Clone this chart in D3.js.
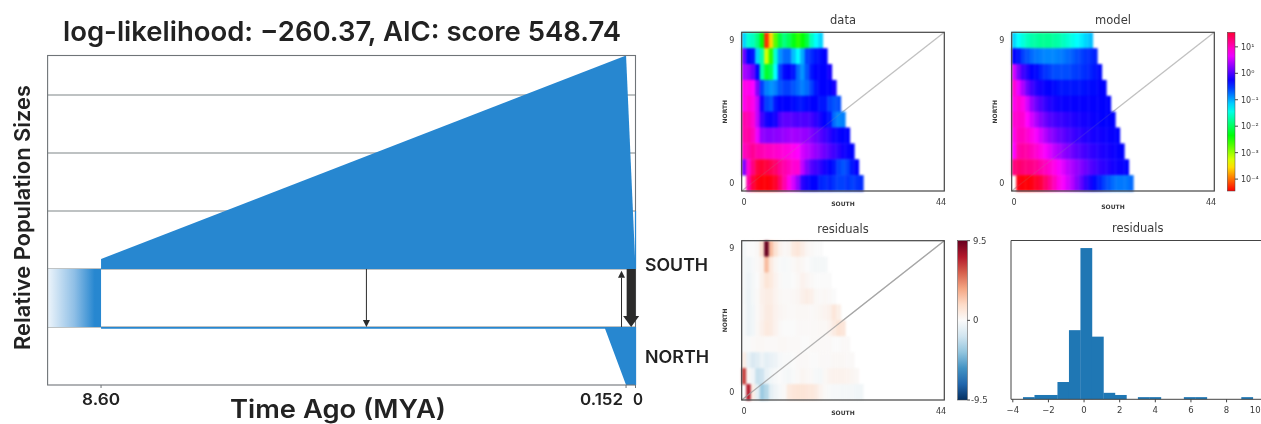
<!DOCTYPE html>
<html><head><meta charset="utf-8">
<script src="https://cdn.jsdelivr.net/npm/d3@7"></script>
<style>
html,body{margin:0;padding:0;background:#fff;overflow:hidden}
svg{display:block}
text{font-family:"DejaVu Sans",sans-serif;fill:#3a3a3a}
.big text,text.big{font-family:Inter,"Open Sans",sans-serif;fill:#222;font-weight:600}
.soft{filter:blur(0.5px)}
.softer{filter:blur(0.8px)}
.leftsoft{filter:blur(0.35px)}
</style></head><body>
<svg id="c" width="1261" height="424"></svg>
<script>
// ---- demographic model (left panel) ----
const titleText = "log-likelihood: \u2212260.37, AIC: score 548.74";
const timeTicks = [8.6, 0.152, 0];
const timeTickLabels = ["8.60", "0.152", "0"];
const gridLevels = [1, 2, 3, 4, 5];
const southBase = 2;
const southTimes = [8.6, 0.152, 0];
const southSizes = [0.17, 3.68, 0];
const northBase = 1;
const northTimes = [8.6, 0.49, 0.152, 0];
const northSizes = [0.03, 0.03, 1, 1];
const ancestralTimes = [9.46, 8.6];
const arrowTimes = [4.33, 0.225, 0.07];
const arrowFrom = [2, 1, 2];
const arrowTo = [1, 1.97, 1];
const arrowWeights = [1, 1, 9];
const popLabels = ["SOUTH", "NORTH"];

// ---- log10 of spectrum values, top row (NORTH = 9) first ----
const dataRows = [
[-1.28,-1.62,-1.7,-1.95,-2.45,-4.28,-3.62,-2.78,-2.2,-1.95,-2.12,-2.37,-2.62,-2.45,-2.2,-1.7,-1.45,-1.28],
[-.03,-.45,-.53,-1.28,-1.78,-3.28,-2.62,-1.62,-1.03,-.87,-.87,-1.2,-1.45,-1.12,-.7,-.62,-.53,-.48,-.45],
[.22,.13,-.03,-.45,-1.78,-2.28,-2.12,-1.45,-.7,-.48,-.45,-.53,-.87,-1.03,-.78,-.53,-.45,-.45,-.45,-.37],
[.63,.63,.55,.05,-.7,-.95,-1.03,-.95,-.78,-.7,-.7,-.78,-.87,-.95,-.87,-.7,-.53,-.45,-.45,-.45,-.37],
[.63,.72,.63,.3,-.37,-.7,-.78,-.53,-.45,-.45,-.45,-.48,-.53,-.53,-.48,-.45,-.45,-.53,-.53,-.7,-.78,-.75],
[.88,.85,.72,.3,-.2,-.37,-.42,-.37,-.15,-.08,-.08,-.12,-.15,-.15,-.15,-.2,-.28,-.37,-.45,-.53,-.87,-.98,-.95],
[.88,.92,.8,.47,.13,.08,.08,.1,.12,.15,.18,.2,.18,.15,.13,.05,-.03,-.12,-.2,-.28,-.37,-.42,-.45,-.45],
[.8,.88,.97,.88,.85,.8,.78,.75,.72,.68,.65,.6,.55,.38,.3,.22,.13,.05,-.03,-.12,-.2,-.28,-.37,-.42,-.45],
[.05,.72,1.05,1.3,1.35,1.3,1.22,1.13,.97,.88,.8,.72,.72,.3,.05,-.12,-.2,-.28,-.37,-.45,-.53,-.7,-.78,-.7,-.53,-.45],
[null,.88,1.3,1.47,1.52,1.52,1.47,1.38,1.13,.88,.63,.38,.13,-.28,-.37,-.45,-.45,-.58,-.62,-.58,-.65,-.7,-.7,-.65,-.7,-.65,-.62]
];
const modelRows = [
[-1.28,-1.45,-1.58,-1.7,-1.78,-1.82,-1.87,-1.87,-1.87,-1.82,-1.78,-1.7,-1.62,-1.53,-1.45,-1.37,-1.28,-1.2],
[-.45,-.53,-.7,-.78,-.87,-.92,-.95,-.98,-.98,-.98,-.95,-.92,-.87,-.82,-.75,-.7,-.65,-.62,-.58],
[.38,.05,-.2,-.32,-.45,-.48,-.58,-.65,-.7,-.75,-.75,-.75,-.75,-.7,-.68,-.65,-.62,-.58,-.53,-.48],
[.72,.47,.22,-.03,-.2,-.32,-.38,-.43,-.45,-.48,-.52,-.53,-.53,-.53,-.53,-.52,-.5,-.48,-.48,-.45,-.45],
[.63,.72,.63,.38,.13,-.03,-.15,-.25,-.32,-.37,-.4,-.42,-.42,-.43,-.43,-.43,-.43,-.43,-.44,-.44,-.45,-.45],
[.72,.75,.72,.55,.38,.22,.08,-.03,-.12,-.17,-.22,-.25,-.28,-.32,-.35,-.37,-.38,-.4,-.42,-.43,-.45,-.45,-.45],
[.63,.8,.8,.72,.63,.52,.38,.25,.13,.05,-.03,-.08,-.15,-.2,-.25,-.28,-.32,-.35,-.37,-.38,-.4,-.42,-.43,-.45],
[.55,.88,.92,.88,.8,.72,.63,.52,.42,.3,.22,.12,.05,-.03,-.1,-.15,-.2,-.25,-.28,-.32,-.35,-.37,-.4,-.43,-.45],
[1.05,1.13,1.08,1.05,1.02,.97,.88,.8,.72,.63,.52,.42,.3,.22,.13,.05,-.03,-.12,-.18,-.25,-.28,-.32,-.37,-.4,-.42,-.45],
[null,1.47,1.52,1.52,1.47,1.38,1.3,1.13,.97,.8,.63,.52,.38,.25,.08,-.08,-.25,-.37,-.48,-.58,-.7,-.78,-.87,-.92,-.92,-.92,-.87]
];
const residualRows = [
[-.3,0,0,.2,1.5,9.5,3,1.5,.5,.2,.3,1,1.2,.8,.3,.1,0,0],
[-.3,-.4,-.2,.1,.5,3,1,.3,-.1,-.2,-.1,.1,.3,.2,0,-.2,-.3,-.3,-.3],
[-.3,-.6,-.3,0,.6,1.3,1,.5,.1,-.1,-.1,0,.2,.5,.3,.1,0,0,0,0],
[-.3,-.7,-.3,.1,.6,.8,.8,.4,.2,.1,.1,.2,.3,.6,.8,.6,.2,.1,.2,.1,0],
[-.2,-.7,-.4,.1,.5,.9,.9,.5,.3,.2,.1,.1,.2,.2,.2,.1,.2,.3,.4,.6,1.2,.7],
[-.2,-.7,-.4,.2,.6,1,.9,.5,.1,0,0,0,.1,.1,.1,.1,.1,.2,.2,.4,.9,1.4,1.2],
[-.1,-.1,.1,.2,.2,.1,.1,.1,.2,.2,.1,.1,.1,0,0,.1,.1,.1,.1,.1,0,0,.1,.1],
[.8,-.8,-1.5,-1.2,-.6,-1,-.8,-.6,-.2,-.1,-.1,0,.1,.1,.1,0,0,.1,.1,.1,.2,.2,.2,.1,.1],
[6.5,.2,-.5,-2.2,-2,-.8,-.4,-.2,0,-.2,-.3,-.1,.1,.3,.2,.1,-.2,-.3,.2,.4,.5,.5,.5,.4,.3,.2],
[null,7.5,.8,-1,-3.5,-2.8,-1,-.5,-.2,.1,1,1.2,1.3,1.3,1.2,1.1,.9,.4,.1,-.1,-.2,-.2,-.3,-.3,-.3,-.4,-.4]
];
const colTicks = [0, 44];
const rowTicks = [0, 9];
const logTicks = [1, 0, -1, -2, -3, -4];
const logTickLabels = ["10\u00b9", "10\u2070", "10\u207b\u00b9", "10\u207b\u00b2", "10\u207b\u00b3", "10\u207b\u2074"];
const logDomain = [-4.45, 1.55];
const residualTicks = [9.5, 0, -9.5];

// ---- residual histogram ----
const histEdgeStart = -3.4;
const histBinWidth = 0.645;
const histCounts = [1,2,2,8,32,70,29,3,2,0,1,1,0,0,1,1,0,0,0,1];
const histTicks = [-4,-2,0,2,4,6,8,10];

const BLUE = "#2787d0";
const svg = d3.select("#c");
const defs = svg.append("defs");

// ================= LEFT PANEL =================
const L = {l:47.6, r:635.5, t:55.5, b:385};
const tx = d3.scaleLinear().domain([9.46,0]).range([L.l,L.r]);
const ty = d3.scaleLinear().domain([0,5.68]).range([L.b,L.t]);
const left = svg.append("g").attr("class","leftsoft");

gridLevels.forEach(v => left.append("line").attr("x1",L.l).attr("x2",L.r).attr("y1",ty(v)).attr("y2",ty(v))
  .attr("stroke","#7f8588").attr("stroke-width",1.1));

const grad = defs.append("linearGradient").attr("id","anc").attr("x1","0").attr("x2","1").attr("y1","0").attr("y2","0");
grad.append("stop").attr("offset","0").attr("stop-color","#eef5fb");
grad.append("stop").attr("offset","0.5").attr("stop-color","#8fbfe6");
grad.append("stop").attr("offset","0.88").attr("stop-color",BLUE);
grad.append("stop").attr("offset","1").attr("stop-color",BLUE);
left.append("rect").attr("x",tx(ancestralTimes[0])).attr("width",tx(ancestralTimes[1])-tx(ancestralTimes[0]))
  .attr("y",ty(southBase)).attr("height",ty(northBase)-ty(southBase)).attr("fill","url(#anc)");

const southArea = d3.area().x((d,i)=>tx(southTimes[i])).y0(ty(southBase)).y1((d,i)=>ty(southBase+southSizes[i]));
left.append("path").attr("d",southArea(southTimes)).attr("fill",BLUE);
const northArea = d3.area().x((d,i)=>tx(northTimes[i])).y0(ty(northBase)).y1((d,i)=>ty(northBase-northSizes[i]));
left.append("path").attr("d",northArea(northTimes)).attr("fill",BLUE);

// frame
left.append("rect").attr("x",L.l).attr("y",L.t).attr("width",L.r-L.l).attr("height",L.b-L.t)
  .attr("fill","none").attr("stroke","#6f7478").attr("stroke-width",1.1);
left.append("line").attr("x1",L.r).attr("x2",L.r).attr("y1",ty(northBase)).attr("y2",L.b).attr("stroke",BLUE).attr("stroke-width",1.2);
left.append("line").attr("x1",L.r).attr("x2",L.r).attr("y1",ty(3)).attr("y2",ty(southBase)).attr("stroke",BLUE).attr("stroke-width",1.2);

// migration arrows
arrowTimes.forEach((t,i)=>{
  const w = arrowWeights[i], x = tx(t), y0 = ty(arrowFrom[i]), y1 = ty(arrowTo[i]);
  const dir = Math.sign(y1-y0), hl = w>1 ? 11 : 7, hw = w>1 ? 8 : 3.5;
  left.append("line").attr("x1",x).attr("x2",x).attr("y1",y0).attr("y2",y1-dir*hl)
    .attr("stroke","#2b2b2b").attr("stroke-width",w);
  left.append("path").attr("d",d3.line()([[x-hw,y1-dir*hl],[x+hw,y1-dir*hl],[x,y1]])+"Z").attr("fill","#2b2b2b");
});

// ticks
timeTicks.forEach(t=>{
  left.append("line").attr("x1",tx(t)).attr("x2",tx(t)).attr("y1",L.b).attr("y2",L.b+3).attr("stroke","#6f7478");
});
const tickLabelX = [0, -24.5, 2.5];
const tickLabelW = [38, 43, 10];
timeTicks.forEach((t,i)=>{
  left.append("text").attr("class","big").attr("x",tx(t)+tickLabelX[i]).attr("y",404.5).attr("text-anchor","middle")
    .style("font-size","16px").attr("textLength",tickLabelW[i]).attr("lengthAdjust","spacingAndGlyphs").text(timeTickLabels[i]);
});
left.append("text").attr("class","big").attr("x",342).attr("y",41).attr("text-anchor","middle")
  .style("font-size","27px").attr("textLength",558).attr("lengthAdjust","spacingAndGlyphs").text(titleText);
left.append("text").attr("class","big").attr("x",338).attr("y",417.5).attr("text-anchor","middle")
  .style("font-size","25px").attr("textLength",216).attr("lengthAdjust","spacingAndGlyphs").text("Time Ago (MYA)");
left.append("text").attr("class","big").attr("transform","translate(30,217.5) rotate(-90)").attr("text-anchor","middle")
  .style("font-size","22px").attr("textLength",265).attr("lengthAdjust","spacingAndGlyphs").text("Relative Population Sizes");
left.append("text").attr("class","big").attr("x",645).attr("y",271).style("font-size","17px").attr("textLength",63).attr("lengthAdjust","spacingAndGlyphs").text(popLabels[0]);
left.append("text").attr("class","big").attr("x",645).attr("y",363).style("font-size","17px").attr("textLength",64).attr("lengthAdjust","spacingAndGlyphs").text(popLabels[1]);

// ================= RIGHT PANELS =================
const right = svg.append("g").attr("class","soft");
const hue = d3.scaleLinear().domain(logDomain).range([0,360]);
const logColor = v => d3.hsl(hue(v),1,0.5).formatHex();
const resStops = ["#053061","#2166ac","#4393c3","#92c5de","#d1e5f0","#fafafa","#fddbc7","#f4a582","#d6604d","#b2182b","#67001f"];
const resInterp = d3.piecewise(d3.interpolateRgb, resStops);
const resColor = v => resInterp(0.5 + v/19);

function heat(box, rows, color, title, southY){
  const g = right.append("g");
  const x = d3.scaleLinear().domain([-0.5,44.5]).range([box.l,box.r]);
  const y = d3.scaleLinear().domain([-0.5,9.5]).range([box.b,box.t]);
  const diag = op => g.append("line").attr("x1",box.l).attr("y1",box.b).attr("x2",box.r).attr("y2",box.t)
    .attr("stroke","#999").attr("stroke-opacity",op).attr("stroke-width",1.2);
  g.append("text").attr("x",(box.l+box.r)/2).attr("y",box.t-8).attr("text-anchor","middle").attr("font-size",11.5).text(title);
  diag(0.55);
  const cells = g.append("g").attr("class","softer");
  rows.forEach((row,i)=>{
    const r = 9-i;
    row.forEach((v,c)=>{
      if(v===null) return;
      cells.append("rect").attr("x",x(c-0.5)).attr("y",y(r+0.5)).attr("width",x(c+0.5)-x(c-0.5)+0.4).attr("height",y(r-0.5)-y(r+0.5)+0.4).attr("fill",color(v));
    });
  });
  diag(box.overOp);
  g.append("rect").attr("x",box.l).attr("y",box.t).attr("width",box.r-box.l).attr("height",box.b-box.t).attr("fill","none").attr("stroke","#444").attr("stroke-width",1.2);
  colTicks.forEach(c=>g.append("text").attr("x",x(c)+(c?-1:0)).attr("y",box.b+14).attr("text-anchor","middle").attr("font-size",8).text(c));
  rowTicks.forEach(r=>g.append("text").attr("x",box.l-10).attr("y",y(r)+2.8).attr("text-anchor","middle").attr("font-size",8).text(r));
  g.append("text").attr("x",(box.l+box.r)/2).attr("y",box.b+southY).attr("text-anchor","middle").attr("font-size",6).attr("font-weight",600).text("SOUTH");
  g.append("text").attr("transform",`translate(${box.l-14.5},${(box.t+box.b)/2}) rotate(-90)`).attr("text-anchor","middle").attr("font-size",6).attr("font-weight",600).text("NORTH");
}
heat({l:741.7,r:944.3,t:32.3,b:191,overOp:0.15}, dataRows, logColor, "data", 15);
heat({l:1011.7,r:1214.3,t:32.3,b:191,overOp:0.15}, modelRows, logColor, "model", 18);
heat({l:741.7,r:944.3,t:240.7,b:400,overOp:0.75}, residualRows, resColor, "residuals", 15);

// colour bars
function colorbar(id, x0, x1, t, b, interp){
  const gr = defs.append("linearGradient").attr("id",id).attr("x1","0").attr("x2","0").attr("y1","1").attr("y2","0");
  d3.range(0,1.0001,0.05).forEach(p=>gr.append("stop").attr("offset",p).attr("stop-color",interp(p)));
  right.append("rect").attr("x",x0).attr("y",t).attr("width",x1-x0).attr("height",b-t).attr("fill",`url(#${id})`).attr("stroke","#444").attr("stroke-width",0.5);
}
colorbar("cbLog",1227.3,1235,32.3,191,p=>d3.hsl(p*348,1,0.5).formatHex());
const cbY = d3.scaleLinear().domain(logDomain).range([191,32.3]);
logTicks.forEach((v,i)=>{
  right.append("line").attr("x1",1235).attr("x2",1238).attr("y1",cbY(v)).attr("y2",cbY(v)).attr("stroke","#444");
  right.append("text").attr("x",1241).attr("y",cbY(v)+3).attr("font-size",8).text(logTickLabels[i]);
});
colorbar("cbRes",957.7,967.3,240.7,400,p=>resInterp(p));
const crY = d3.scaleLinear().domain([-9.5,9.5]).range([400,240.7]);
residualTicks.forEach(v=>{
  right.append("line").attr("x1",967.3).attr("x2",970).attr("y1",crY(v)).attr("y2",crY(v)).attr("stroke","#444");
  right.append("text").attr("x",v<0?971:973).attr("y",crY(v)+3).attr("font-size",8.5).text(v);
});

// histogram
const H = {l:1011,r:1262,t:240.5,b:399.3};
const hx = d3.scaleLinear().domain([-4,10]).range([1012.3,1261.7]);
const hy = d3.scaleLinear().domain([0,73.5]).range([H.b,H.t]);
right.append("text").attr("x",1137.7).attr("y",232).attr("text-anchor","middle").attr("font-size",11.5).text("residuals");
histCounts.forEach((c,i)=>{
  if(!c) return;
  const e = histEdgeStart+i*histBinWidth;
  right.append("rect").attr("x",hx(e)).attr("width",hx(e+histBinWidth)-hx(e)+0.3).attr("y",hy(c)).attr("height",H.b-hy(c)).attr("fill","#1f77b4");
});
right.append("path").attr("d",`M${H.r},${H.t}H${H.l}V${H.b}H${H.r}`).attr("fill","none").attr("stroke","#444").attr("stroke-width",1);
const hAxis = d3.axisBottom(hx).tickValues(histTicks).tickSize(3).tickSizeOuter(0).tickFormat(d=>String(d).replace("-","\u2212"));
const hg = right.append("g").attr("transform",`translate(0,${H.b})`).call(hAxis);
hg.select(".domain").remove();
hg.selectAll("line").attr("stroke","#444");
hg.selectAll("text").attr("font-size",8.5).attr("dy","0.85em").style("fill","#3a3a3a").style("font-family",'"DejaVu Sans",sans-serif');
// the last tick label sits at the window edge: keep it whole
hg.selectAll("text").filter(d=>d===10).attr("text-anchor","end").attr("x",-1.5);
</script>
</body></html>
